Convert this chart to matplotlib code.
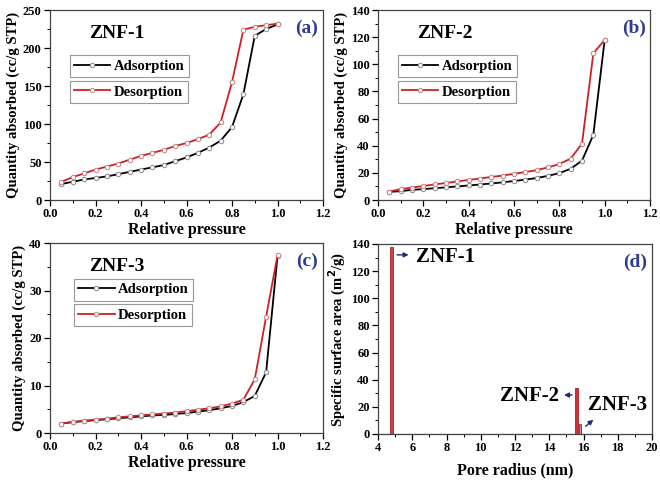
import numpy as np
import matplotlib.pyplot as plt
from matplotlib.ticker import MultipleLocator

plt.rcParams['font.family'] = ['Liberation Serif', 'DejaVu Serif']
plt.rcParams['font.weight'] = 'bold'
plt.rcParams['axes.labelweight'] = 'bold'

# relative pressure points (same for every isotherm)
p = [0.05, 0.1, 0.15, 0.2, 0.25, 0.3, 0.35, 0.4, 0.45, 0.5,
     0.55, 0.6, 0.65, 0.7, 0.75, 0.8, 0.85, 0.9, 0.95, 1.0]

znf1_ads = [21, 24, 27, 29, 31, 34, 37, 40, 43, 46,
            51, 56, 62, 69, 78, 96, 139, 216, 225, 231]
znf1_des = [24, 30, 35, 40, 44, 48, 53, 58, 62, 66,
            71, 75, 80, 86, 102, 155, 224, 228, 230, 232]

znf2_ads = [6, 6.5, 7.5, 8, 8.7, 9.3, 10, 10.7, 11.4, 12.2,
            13, 14, 15, 16.2, 17.8, 19.8, 23, 29, 48, 118]
znf2_des = [6.2, 8, 9.2, 10.3, 11.5, 12.5, 13.7, 14.8, 15.8, 17,
            18, 19.3, 20.6, 22, 24, 26.5, 30.5, 41.5, 108, 118]

znf3_ads = [2.0, 2.3, 2.5, 2.7, 2.9, 3.1, 3.3, 3.5, 3.7, 3.8,
            4.0, 4.2, 4.5, 4.8, 5.2, 5.7, 6.5, 7.8, 12.8, 37.2]
znf3_des = [2.0, 2.3, 2.6, 2.8, 3.0, 3.3, 3.5, 3.7, 3.9, 4.1,
            4.3, 4.6, 4.9, 5.2, 5.6, 6.2, 7.0, 11.3, 24.5, 37.4]

# pore size distribution (d)
pore_r = [4.8, 15.6, 15.8]
pore_area = [138, 34, 7.5]
pore_names = ['ZNF-1', 'ZNF-2', 'ZNF-3']

navy = '#1f2a7a'
label_blue = '#2f3b8f'

fig = plt.figure(figsize=(6.6, 4.8), dpi=100)
W, H = 660.0, 480.0

def make_ax(l, t, r, b):
    return fig.add_axes([l / W, 1 - b / H, (r - l) / W, (b - t) / H])

def style(ax):
    for s in ax.spines.values():
        s.set_color('#444444')
        s.set_linewidth(0.9)
    ax.tick_params(direction='out', length=4, width=0.9, labelsize=9, pad=2)
    ax.tick_params(which='minor', direction='out', length=2.2, width=0.7)
    for lab in ax.get_xticklabels() + ax.get_yticklabels():
        lab.set_fontweight('bold')

def isotherm(ax, ads, des, ymax, ystep, name, tag, legx, legy):
    la, = ax.plot(p, ads, '-', color='black', lw=1.3, marker='o', ms=3.2,
                  mfc='white', mec='#888888', mew=0.7)
    ld, = ax.plot(p, des, '-', color='#d21f26', lw=1.3, marker='o', ms=3.2,
                  mfc='white', mec='#c08080', mew=0.7)
    ax.set_xlim(0, 1.2)
    ax.set_ylim(0, ymax)
    ax.xaxis.set_major_locator(MultipleLocator(0.2))
    ax.xaxis.set_minor_locator(MultipleLocator(0.1))
    ax.yaxis.set_major_locator(MultipleLocator(ystep))
    ax.yaxis.set_minor_locator(MultipleLocator(ystep / 2))
    ax.set_xlabel('Relative pressure', fontsize=11.5, labelpad=1)
    ax.set_ylabel('Quantity absorbed (cc/g STP)', fontsize=10.5, labelpad=2)
    ax.text(0.245, 0.875, name, transform=ax.transAxes, fontsize=14,
            fontweight='bold', ha='center', va='center')
    ax.text(0.94, 0.905, tag, transform=ax.transAxes, fontsize=14,
            fontweight='bold', ha='center', va='center', color=label_blue)
    l1 = ax.legend([la], ['Adsorption'], loc='upper left',
                   bbox_to_anchor=(legx, legy), fontsize=10.5, handlelength=2.5,
                   borderpad=0.3, handletextpad=0.25, fancybox=False,
                   edgecolor='#999999', framealpha=1)
    l1.get_frame().set_linewidth(0.8)
    ax.add_artist(l1)
    l2 = ax.legend([ld], ['Desorption'], loc='upper left',
                   bbox_to_anchor=(legx, legy - 0.135), fontsize=10.5, handlelength=2.5,
                   borderpad=0.3, handletextpad=0.25, fancybox=False,
                   edgecolor='#999999', framealpha=1)
    l2.get_frame().set_linewidth(0.8)
    for lg in (l1, l2):
        for t in lg.get_texts():
            t.set_fontweight('bold')
    style(ax)

ax_a = make_ax(50, 10, 323, 200)
isotherm(ax_a, znf1_ads, znf1_des, 250, 50, 'ZNF-1', '(a)', 0.045, 0.80)

ax_b = make_ax(378, 10, 650, 200)
isotherm(ax_b, znf2_ads, znf2_des, 140, 20, 'ZNF-2', '(b)', 0.045, 0.80)

ax_c = make_ax(50, 243, 323, 433)
isotherm(ax_c, znf3_ads, znf3_des, 40, 10, 'ZNF-3', '(c)', 0.06, 0.85)

ax_d = make_ax(378, 244, 652, 434)
bar_fill = ['#c04a50', '#d0303a', '#c49090']
ax_d.bar(pore_r, pore_area, width=0.15, color=bar_fill, edgecolor='#b01820', lw=0.6)
ax_d.axhline(0, xmin=0.0, xmax=(17 - 4) / 16, color='#5060b0', lw=0.8)
ax_d.set_xlim(4, 20)
ax_d.set_ylim(0, 140)
ax_d.xaxis.set_major_locator(MultipleLocator(2))
ax_d.xaxis.set_minor_locator(MultipleLocator(1))
ax_d.yaxis.set_major_locator(MultipleLocator(20))
ax_d.yaxis.set_minor_locator(MultipleLocator(10))
ax_d.set_xlabel('Pore radius (nm)', fontsize=11.5, labelpad=6)
ax_d.set_ylabel('Specific surface area (m$^\\mathbf{2}$/g)', fontsize=10.5, labelpad=2)
ax_d.text(0.94, 0.905, '(d)', transform=ax_d.transAxes, fontsize=14,
          fontweight='bold', ha='center', va='center', color=label_blue)

arr = dict(arrowstyle='-|>', color=navy, lw=1.0, mutation_scale=7)
ax_d.annotate('', xy=(5.95, 132), xytext=(4.95, 132), arrowprops=arr)
ax_d.text(6.2, 130.5, pore_names[0], fontsize=15, fontweight='bold', va='center')
ax_d.annotate('', xy=(14.7, 28.7), xytext=(15.5, 28.7), arrowprops=arr)
ax_d.text(14.55, 28.2, pore_names[1], fontsize=15, fontweight='bold', va='center', ha='right')
ax_d.annotate('', xy=(16.7, 11.8), xytext=(16.0, 4.4), arrowprops=arr)
ax_d.text(16.25, 21, pore_names[2], fontsize=15, fontweight='bold', va='center')
style(ax_d)

fig.savefig('out.png', dpi=100)
